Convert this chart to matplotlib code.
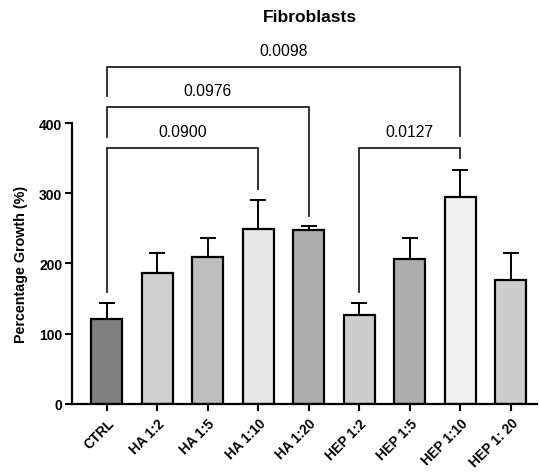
import matplotlib
matplotlib.use("Agg")
import matplotlib.pyplot as plt

plt.rcParams['font.family'] = ['Liberation Sans', 'DejaVu Sans']

categories = ["CTRL", "HA 1:2", "HA 1:5", "HA 1:10", "HA 1:20",
              "HEP 1:2", "HEP 1:5", "HEP 1:10", "HEP 1: 20"]
means = [121, 186, 209, 249, 248, 126, 207, 294, 176]
errors = [23, 29, 28, 41, 5, 18, 29, 39, 39]
colors = ["#808080", "#d0d0d0", "#bdbdbd", "#e6e6e6", "#adadad",
          "#cdcdcd", "#adadad", "#f0f0f0", "#cdcdcd"]
# brackets: (left index, right index, height, left drop end, right drop end, label)
brackets = [
    (0, 3, 364, 159, 306, "0.0900"),
    (0, 4, 423, 380, 268, "0.0976"),
    (0, 7, 480, 438, 381, "0.0098"),
    (5, 7, 364, 159, 350, "0.0127"),
]
yticks = [0, 100, 200, 300, 400]

fig = plt.figure(figsize=(5.39, 4.77), dpi=100)
ax = fig.add_axes([0.1336, 0.151, 0.862, 0.589])

x = list(range(len(categories)))
ax.bar(x, means, width=0.61, color=colors, edgecolor="black", linewidth=1.6, zorder=2)
# upward-only error bars
ax.errorbar(x, means, yerr=[[0]*len(means), errors], fmt="none", ecolor="black",
            elinewidth=1.4, capsize=6, capthick=1.4, zorder=1)

ax.set_xlim(-0.69, 8.51)
ax.set_ylim(0, 400)
ax.set_yticks(yticks)
ax.set_xticks(x)
ax.set_xticklabels(categories, rotation=45, ha="right", rotation_mode="anchor",
                   fontsize=9.8, fontweight="bold")
for lbl in ax.get_yticklabels():
    lbl.set_fontweight("bold")
    lbl.set_fontsize(10)
ax.tick_params(axis="both", direction="out", length=5, width=1.5)
ax.tick_params(axis="y", pad=2)
ax.set_ylabel("Percentage Growth (%)", fontsize=10.3, fontweight="bold", labelpad=8)
for s in ["top", "right"]:
    ax.spines[s].set_visible(False)
for s in ["left", "bottom"]:
    ax.spines[s].set_linewidth(1.6)

for li, ri, h, ld, rd, lab in brackets:
    ax.plot([li, li, ri, ri], [ld, h, h, rd], color="#222222", lw=1.3,
            clip_on=False, solid_joinstyle="miter")
    ax.text((li + ri) / 2, h + 13, lab, ha="center", va="bottom", fontsize=11.3)

fig.text(310 / 539, 1 - 18 / 477, "Fibroblasts", ha="center", va="center",
         fontsize=12.5, fontweight="bold")

fig.savefig("out.png", dpi=100)
